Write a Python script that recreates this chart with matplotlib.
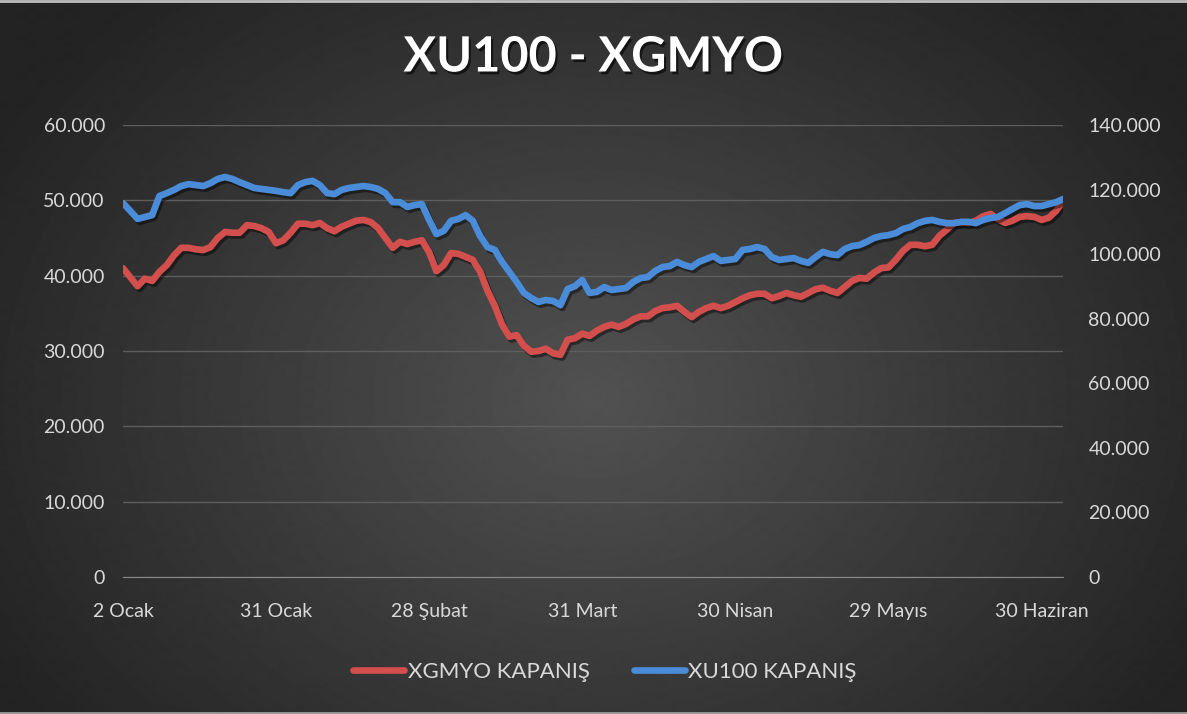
import numpy as np
import matplotlib.pyplot as plt
import matplotlib.patheffects as pe
from matplotlib.ticker import FuncFormatter, MultipleLocator

# closing values, thousands (Jan - Jun, trading days)
xgmyo = [41.0, 39.8, 38.6, 39.6, 39.3, 40.5, 41.4, 42.7, 43.7, 43.7,
         43.5, 43.4, 43.8, 45.0, 45.8, 45.7, 45.7, 46.7, 46.6, 46.3,
         45.8, 44.3, 44.7, 45.7, 46.9, 46.9, 46.7, 47.0, 46.3, 45.9,
         46.5, 46.9, 47.3, 47.4, 47.1, 46.3, 45.0, 43.7, 44.5, 44.2,
         44.5, 44.7, 43.1, 40.6, 41.4, 43.0, 42.9, 42.5, 42.1, 40.5,
         38.0, 36.0, 33.5, 31.9, 32.1, 30.7, 29.9, 30.0, 30.3, 29.7,
         29.5, 31.5, 31.7, 32.3, 32.0, 32.7, 33.2, 33.5, 33.2, 33.6,
         34.2, 34.6, 34.6, 35.3, 35.7, 35.8, 36.0, 35.2, 34.5, 35.2,
         35.7, 36.0, 35.7, 36.0, 36.5, 37.0, 37.4, 37.6, 37.6, 37.0,
         37.3, 37.7, 37.4, 37.2, 37.7, 38.2, 38.4, 38.0, 37.7, 38.5,
         39.3, 39.7, 39.6, 40.4, 41.0, 41.1, 42.1, 43.3, 44.1, 44.1,
         43.9, 44.1, 45.3, 46.1, 47.0, 47.1, 47.0, 47.3, 47.9, 48.2,
         47.5, 47.0, 47.3, 47.8, 47.9, 47.8, 47.4, 47.7, 48.6, 50.0]

xu100 = [115.8, 113.4, 110.9, 111.5, 112.1, 118.0, 118.9, 119.9, 121.1, 121.7,
         121.4, 121.1, 122.0, 123.3, 123.9, 123.3, 122.3, 121.4, 120.5, 120.2,
         119.9, 119.6, 119.2, 118.9, 121.4, 122.3, 122.7, 121.4, 118.9, 118.6,
         119.9, 120.5, 120.8, 121.1, 120.8, 120.2, 118.9, 116.1, 116.1, 114.6,
         115.2, 115.5, 110.6, 106.2, 107.2, 110.3, 110.9, 112.1, 110.3, 105.6,
         102.2, 101.3, 97.6, 94.5, 91.4, 88.0, 86.4, 85.2, 85.8, 85.5,
         84.2, 89.2, 90.1, 92.0, 88.0, 88.3, 89.8, 88.9, 89.2, 89.5,
         91.4, 92.6, 92.9, 94.8, 96.0, 96.3, 97.6, 96.6, 96.0, 97.6,
         98.5, 99.4, 97.9, 98.2, 98.5, 101.3, 101.6, 102.2, 101.6, 99.1,
         98.2, 98.5, 98.8, 97.9, 97.3, 99.1, 100.7, 100.0, 99.7, 101.6,
         102.5, 102.8, 103.8, 105.0, 105.6, 105.9, 106.5, 107.8, 108.4, 109.6,
         110.3, 110.6, 110.0, 109.6, 109.6, 110.0, 110.0, 109.6, 110.6, 111.2,
         111.5, 112.7, 114.0, 115.2, 115.5, 114.9, 114.9, 115.5, 116.1, 117.1]

tick_idx = [0, 21, 42, 63, 84, 105, 126]
tick_labels = ["2 Ocak", "31 Ocak", "28 Şubat", "31 Mart", "30 Nisan", "29 Mayıs", "30 Haziran"]

plt.rcParams['font.family'] = ['Lato', 'DejaVu Sans']
txt = '#d9d9d9'

fig = plt.figure(figsize=(11.87, 7.14), dpi=100)

# radial dark background
bg = fig.add_axes([0, 0, 1, 1], zorder=-10)
yy, xx = np.mgrid[0:714, 0:1187]
r = np.sqrt(((xx - 594) / 720.0) ** 2 + ((yy - 400) / 560.0) ** 2)
shade = np.clip(0.32 - 0.19 * r, 0.14, 0.32)
bg.imshow(shade, cmap='gray', vmin=0, vmax=1, aspect='auto', interpolation='bilinear')
bg.axhline(0.5, color='#bfbfbf', lw=2)
bg.axhline(712.5, color='#9a9a9a', lw=2)
bg.set_xlim(0, 1187)
bg.set_ylim(714, 0)
bg.axis('off')

ax = fig.add_axes([0.1036, 0.1919, 0.7923, 0.633])
ax.patch.set_alpha(0)
ax2 = ax.twinx()

x = np.arange(len(xgmyo))
shadow = [pe.SimpleLineShadow(offset=(1.5, -2), shadow_color='black', alpha=0.45), pe.Normal()]
l1, = ax.plot(x, np.array(xgmyo) * 1000, color='#d24f4d', lw=4.8,
              solid_capstyle='round', path_effects=shadow, label='XGMYO KAPANIŞ')
l2, = ax2.plot(x, np.array(xu100) * 1000, color='#4a8cd8', lw=4.8,
               solid_capstyle='round', path_effects=shadow, label='XU100 KAPANIŞ')

fmt = FuncFormatter(lambda v, _: f"{int(round(v)):,}".replace(",", "."))
ax.set_ylim(0, 60000)
ax.yaxis.set_major_locator(MultipleLocator(10000))
ax.yaxis.set_major_formatter(fmt)
ax2.set_ylim(0, 140000)
ax2.yaxis.set_major_locator(MultipleLocator(20000))
ax2.yaxis.set_major_formatter(fmt)
ax.set_xlim(0, len(xgmyo) - 1)
ax.set_xticks(tick_idx)
ax.set_xticklabels(tick_labels)

ax.grid(axis='y', color='#5e5e5e', lw=1)
ax.set_axisbelow(True)
for a in (ax, ax2):
    for s in a.spines.values():
        s.set_visible(False)
ax.spines['bottom'].set_visible(True)
ax.spines['bottom'].set_color('#8a8a8a')

ax.tick_params(axis='y', length=0, pad=13, labelsize=14, labelcolor=txt)
ax.tick_params(axis='x', length=0, pad=19, labelsize=14, labelcolor=txt)
ax2.tick_params(axis='y', length=0, pad=18, labelsize=14, labelcolor=txt)

fig.text(0.5, 1 - 57 / 714, "XU100 - XGMYO", ha='center', va='center',
         fontsize=35, fontweight='bold', color='white',
         path_effects=[pe.withSimplePatchShadow(offset=(1.5, -2), shadow_rgbFace='black', alpha=0.6)])

leg = fig.legend(handles=[l1, l2], loc='center', bbox_to_anchor=(605 / 1187, 1 - 672 / 714),
                 ncol=2, frameon=False, fontsize=16, handlelength=2.3,
                 handletextpad=0.15, columnspacing=2.0)
for t in leg.get_texts():
    t.set_color(txt)
for h in leg.legend_handles:
    h.set_path_effects([])

fig.savefig('out.png', dpi=100)
